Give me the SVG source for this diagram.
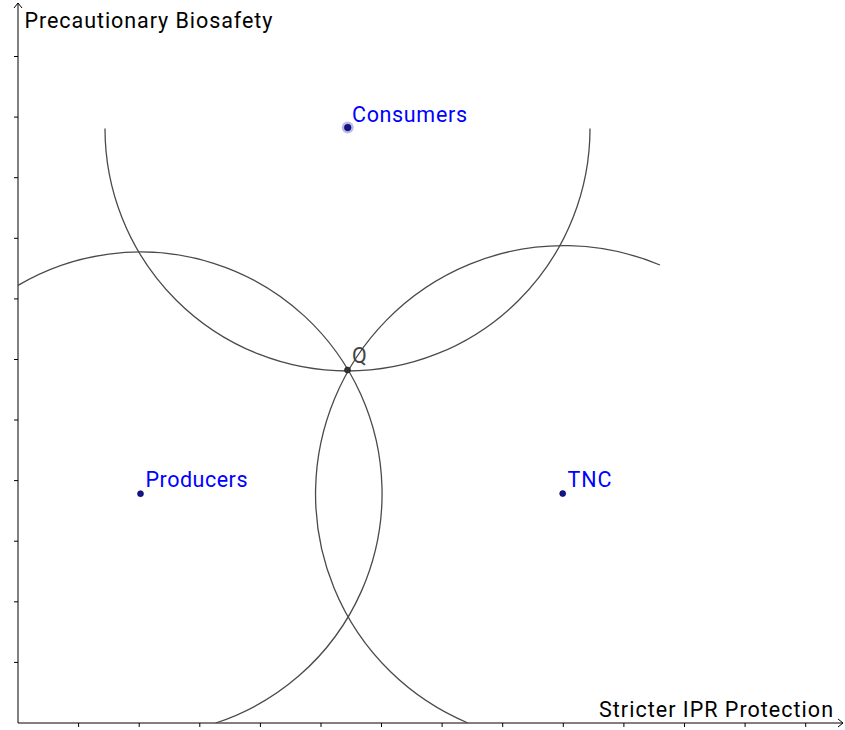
<svg xmlns="http://www.w3.org/2000/svg" width="845" height="730" viewBox="0 0 845 730">
<style>
.axis{stroke:#000;stroke-width:1;fill:none}
.tick{stroke:#000;stroke-width:1}
.arc{stroke:#4a4a4a;stroke-width:1.3;fill:none}
.lbl{font-family:Roboto,"Liberation Sans",sans-serif;font-size:21.5px;fill:#0000ff}
.ax{font-family:Roboto,"Liberation Sans",sans-serif;font-size:21.5px;fill:#000}
.pt{fill:#14148c;stroke:#000050;stroke-width:0.6}
</style>
<rect width="845" height="730" fill="#fff"/>
<g id="axes">
<line class="axis" x1="18" y1="723" x2="18" y2="3"/>
<polyline class="axis" points="14,8 18,3 22,8"/>
<line class="axis" x1="18" y1="723" x2="843" y2="723"/>
<polyline class="axis" points="838,719 843,723 838,727"/>
<g id="xticks">
<line class="tick" x1="78.6" y1="723" x2="78.6" y2="727"/>
<line class="tick" x1="139.2" y1="723" x2="139.2" y2="727"/>
<line class="tick" x1="199.8" y1="723" x2="199.8" y2="727"/>
<line class="tick" x1="260.4" y1="723" x2="260.4" y2="727"/>
<line class="tick" x1="321" y1="723" x2="321" y2="727"/>
<line class="tick" x1="381.5" y1="723" x2="381.5" y2="727"/>
<line class="tick" x1="442.1" y1="723" x2="442.1" y2="727"/>
<line class="tick" x1="502.7" y1="723" x2="502.7" y2="727"/>
<line class="tick" x1="563.3" y1="723" x2="563.3" y2="727"/>
<line class="tick" x1="623.9" y1="723" x2="623.9" y2="727"/>
<line class="tick" x1="684.5" y1="723" x2="684.5" y2="727"/>
<line class="tick" x1="745.1" y1="723" x2="745.1" y2="727"/>
<line class="tick" x1="805.7" y1="723" x2="805.7" y2="727"/>
</g>
<g id="yticks">
<line class="tick" x1="14" y1="662.4" x2="18" y2="662.4"/>
<line class="tick" x1="14" y1="601.8" x2="18" y2="601.8"/>
<line class="tick" x1="14" y1="541.2" x2="18" y2="541.2"/>
<line class="tick" x1="14" y1="480.6" x2="18" y2="480.6"/>
<line class="tick" x1="14" y1="420" x2="18" y2="420"/>
<line class="tick" x1="14" y1="359.5" x2="18" y2="359.5"/>
<line class="tick" x1="14" y1="298.9" x2="18" y2="298.9"/>
<line class="tick" x1="14" y1="238.3" x2="18" y2="238.3"/>
<line class="tick" x1="14" y1="177.7" x2="18" y2="177.7"/>
<line class="tick" x1="14" y1="117.1" x2="18" y2="117.1"/>
<line class="tick" x1="14" y1="56.5" x2="18" y2="56.5"/>
</g>
<text class="ax" x="24.5" y="28.3" textLength="248" lengthAdjust="spacing">Precautionary Biosafety</text>
<text class="ax" x="599" y="717" textLength="234" lengthAdjust="spacing">Stricter IPR Protection</text>
</g>
<g id="connectors">
<path class="arc" d="M105,128.5 A242.5,242.5 0 0 0 590,128.5"/>
<path class="arc" d="M18,285.4 A241.5,241.5 0 1 1 215.7,723"/>
<path class="arc" d="M660,265 A248.3,248.3 0 1 0 467.9,723"/>
</g>
<g id="consumers">
<circle cx="347.7" cy="127.6" r="6" fill="#9090e0" opacity="0.6"/>
<circle class="pt" cx="347.7" cy="127.6" r="3.3"/>
<text class="lbl" x="352" y="121.7" textLength="115" lengthAdjust="spacing">Consumers</text>
</g>
<g id="producers">
<circle class="pt" cx="140.5" cy="493.7" r="3"/>
<text class="lbl" x="145.5" y="487" textLength="102" lengthAdjust="spacing">Producers</text>
</g>
<g id="tnc">
<circle class="pt" cx="562.7" cy="493.6" r="3"/>
<text class="lbl" x="567.5" y="487" textLength="44" lengthAdjust="spacing">TNC</text>
</g>
<g id="q">
<circle cx="347.5" cy="370" r="3" fill="#333" stroke="#111" stroke-width="0.6"/>
<text x="352" y="363" style="font-family:Roboto,'Liberation Sans',sans-serif;font-size:21.5px;fill:#444">Q</text>
</g>
</svg>
